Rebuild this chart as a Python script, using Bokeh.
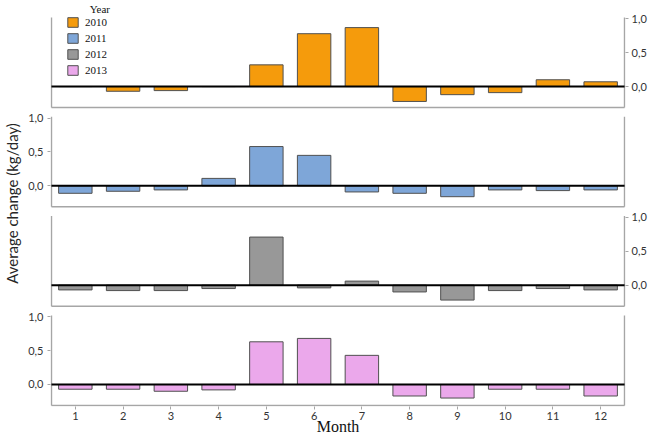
from bokeh.plotting import figure
from bokeh.models import Range1d, LinearAxis, FixedTicker, Legend, LegendItem, Label
from bokeh.embed import file_html
from bokeh.resources import INLINE
from bokeh.core.properties import value

# ---------------- data ----------------
months = list(range(1, 13))
years = ["2010", "2011", "2012", "2013"]
v2010 = [0.0, -0.07, -0.06, 0.0, 0.32, 0.78, 0.87, -0.22, -0.12, -0.09, 0.10, 0.07]
v2011 = [-0.11, -0.08, -0.06, 0.11, 0.58, 0.45, -0.09, -0.11, -0.16, -0.06, -0.07, -0.06]
v2012 = [-0.07, -0.08, -0.08, -0.05, 0.71, -0.04, 0.06, -0.10, -0.22, -0.08, -0.05, -0.07]
v2013 = [-0.07, -0.07, -0.10, -0.08, 0.63, 0.68, 0.43, -0.17, -0.20, -0.07, -0.07, -0.17]
series = [v2010, v2011, v2012, v2013]
colors = ["#F59B0C", "#7EA6D8", "#989898", "#EBA8EB"]
tick_vals = [0.0, 0.5, 1.0]
tick_text = ["0,0", "0,5", "1,0"]

# ---------------- layout constants ----------------
LO, HI, GAP, TOP = -0.31, 1.02, 0.136, 0.25
P = round(HI - LO + GAP, 4)
XS, XE = 0.5, 12.5
offsets = [round((3 - k) * P, 4) for k in range(4)]
Y0 = LO - 0.015
Y1 = HI + 3 * P + TOP

p = figure(width=652, height=437, x_range=Range1d(XS - 0.02, XE + 0.02),
           y_range=Range1d(Y0, Y1), output_backend="svg", toolbar_location=None,
           min_border_left=48, min_border_right=27, min_border_top=0, min_border_bottom=0)
p.outline_line_color = None
p.xgrid.visible = False
p.ygrid.visible = False
p.extra_y_ranges = {f"p{k}": Range1d(Y0 - offsets[k], Y1 - offsets[k]) for k in range(4)}

frame_col = "#A6A6A6"
tick_font = "Lato"
tick_col = "#333333"

renderers = []
for k in range(4):
    rn = f"p{k}"
    # panel frame (left, right, bottom)
    p.segment(x0=[XS, XE, XS], y0=[LO, LO, LO], x1=[XS, XE, XE], y1=[HI, HI, LO],
              y_range_name=rn, line_color=frame_col, line_width=1.5)
    r = p.vbar(x=months, top=series[k], bottom=0, width=0.7, y_range_name=rn,
               fill_color=colors[k], line_color="#505050", line_width=1)
    renderers.append(r)
    # zero line
    p.segment(x0=[XS], y0=[0], x1=[XE], y1=[0], y_range_name=rn,
              line_color="black", line_width=2)

def make_ticks(panels):
    ticks, over = [], {}
    for k in panels:
        for t, s in zip(tick_vals, tick_text):
            v = round(offsets[k] + t, 4)
            ticks.append(v)
            over[v] = s
    return ticks, over

def style_axis(ax):
    ax.axis_line_color = None
    ax.major_tick_line_color = frame_col
    ax.major_tick_out = 3
    ax.major_tick_in = 0
    ax.minor_tick_line_color = None
    ax.major_label_text_font = tick_font
    ax.major_label_text_font_size = "11px"
    ax.major_label_text_color = tick_col

# left axis: panels 2 and 4
lt, lo_ = make_ticks([1, 3])
yl = p.yaxis[0]
yl.ticker = FixedTicker(ticks=lt)
yl.major_label_overrides = lo_
style_axis(yl)
yl.major_label_standoff = 4
yl.axis_label = "Average change (kg/day)"
yl.axis_label_text_font = "Lato"
yl.axis_label_text_font_size = "15px"
yl.axis_label_text_font_style = "normal"
yl.axis_label_text_color = "#262626"
yl.axis_label_standoff = 4

# right axis: panels 1 and 3
rt, ro_ = make_ticks([0, 2])
yr = LinearAxis(ticker=FixedTicker(ticks=rt), major_label_overrides=ro_)
style_axis(yr)
yr.major_label_standoff = 3
p.add_layout(yr, "right")

# x axis
xa = p.xaxis[0]
xa.ticker = FixedTicker(ticks=months)
style_axis(xa)
xa.major_label_standoff = 2
xa.axis_label = "Month"
xa.axis_label_text_font = "Liberation Serif"
xa.axis_label_text_font_size = "16px"
xa.axis_label_text_font_style = "normal"
xa.axis_label_text_color = "#111111"
xa.axis_label_standoff = -5

# legend
legend = Legend(items=[LegendItem(label=value(y), renderers=[r]) for y, r in zip(years, renderers)],
                location="top_left", margin=16, padding=0, spacing=4,
                glyph_width=13, glyph_height=12, label_height=12, label_standoff=6,
                label_text_font="Liberation Serif", label_text_font_size="11px",
                label_text_color="#111111",
                background_fill_alpha=0, border_line_color=None)
p.add_layout(legend)
p.add_layout(Label(x=1.3, y=HI + TOP - 0.04, y_range_name="p0", text="Year",
                   x_units="data", y_units="data", text_align="left",
                   text_font="Liberation Serif", text_font_size="11px",
                   text_color="#111111", text_baseline="top"))

open("out.html", "w").write(file_html(p, INLINE))
